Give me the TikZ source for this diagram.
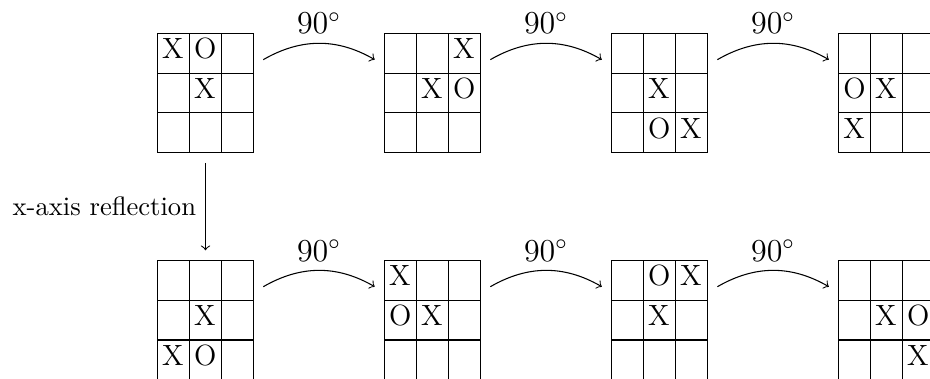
\documentclass[tikz,border=0pt]{standalone}
\usepackage{array}
\usepackage{tikz}
\usetikzlibrary{positioning}

\newcolumntype{C}{>{\fontsize{11}{13}\selectfont\rule[-5.2pt]{0pt}{14.6pt}}p{8.6pt}}
\newcommand{\tttboard}[9]{%
  \setlength{\tabcolsep}{1.5pt}%
  \begin{tabular}{|C|C|C|}\hline
    #1 & #2 & #3\\\hline
    #4 & #5 & #6\\\hline
    #7 & #8 & #9\\\hline
  \end{tabular}}

\begin{document}
\begin{tikzpicture}[
    node distance = 3cm,
    on grid,
    board/.style={inner sep=0.3333em},
    rotarrow/.style={->, bend left},
    anglelabel/.style={above, font=\large}
]
\useasboundingbox (-2.715,-3.766) rectangle (9.573,1.229);

% original and its rotations
\node[board]                 (b1) {\tttboard{X}{O}{}{}{X}{}{}{}{}};
\node[board, right=of b1]    (b2) {\tttboard{}{}{X}{}{X}{O}{}{}{}};
\node[board, right=of b2]    (b3) {\tttboard{}{}{}{}{X}{}{}{O}{X}};
\node[board, right=of b3]    (b4) {\tttboard{}{}{}{O}{X}{}{X}{}{}};

% reflected board and its rotations
\node[board, below=of b1]    (b5) {\tttboard{}{}{}{}{X}{}{X}{O}{}};
\node[board, right=of b5]    (b6) {\tttboard{X}{}{}{O}{X}{}{}{}{}};
\node[board, right=of b6]    (b7) {\tttboard{}{O}{X}{}{X}{}{}{}{}};
\node[board, right=of b7]    (b8) {\tttboard{}{}{}{}{X}{O}{}{}{X}};

\draw[rotarrow] (b1) to node[anglelabel] {$90^\circ$} (b2);
\draw[rotarrow] (b2) to node[anglelabel] {$90^\circ$} (b3);
\draw[rotarrow] (b3) to node[anglelabel] {$90^\circ$} (b4);

\draw[->] (b1) -- node[left] {x-axis reflection} (b5);

\draw[rotarrow] (b5) to node[anglelabel] {$90^\circ$} (b6);
\draw[rotarrow] (b6) to node[anglelabel] {$90^\circ$} (b7);
\draw[rotarrow] (b7) to node[anglelabel] {$90^\circ$} (b8);
\end{tikzpicture}
\end{document}
